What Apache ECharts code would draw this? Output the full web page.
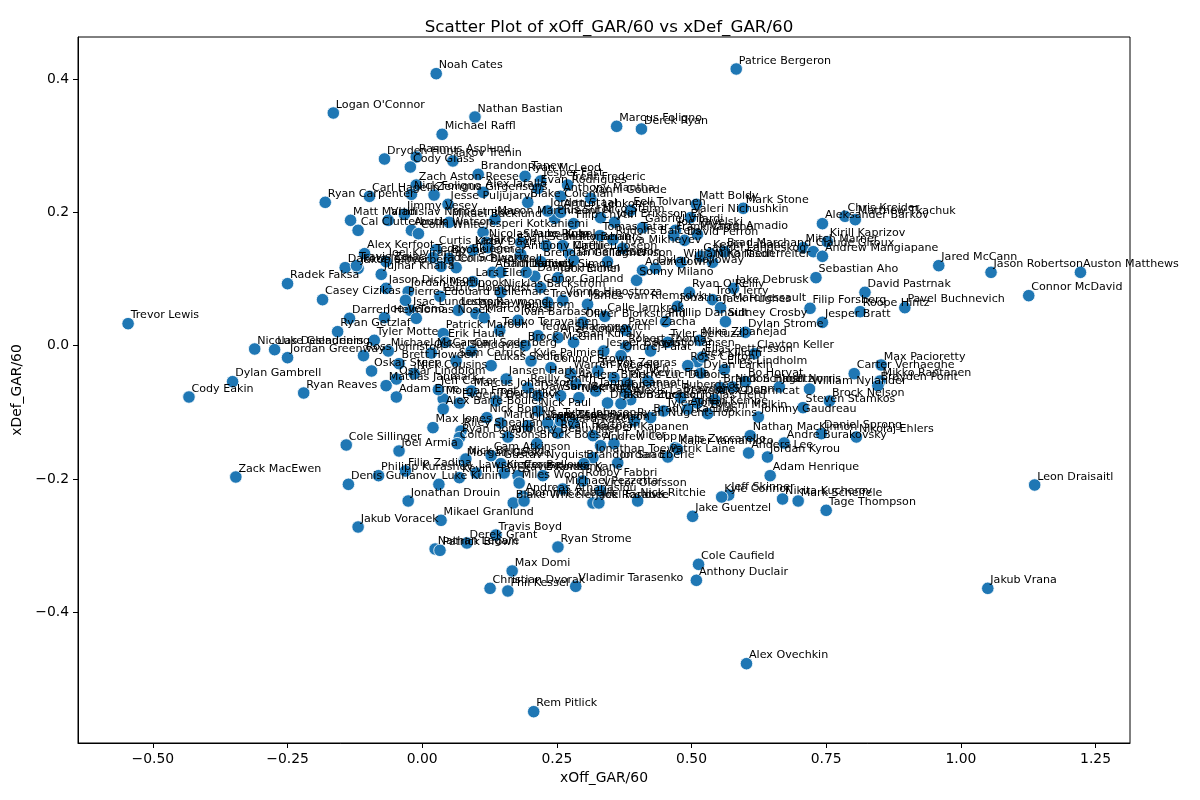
<!DOCTYPE html>
<html>
<head>
<meta charset="utf-8">
<script src="https://cdn.jsdelivr.net/npm/echarts@6/dist/echarts.min.js"></script>
<style>html,body{margin:0;padding:0;background:#fff}#c{width:1200px;height:800px}</style>
</head>
<body>
<div id="c"></div>
<script>
const players = [
"Patrice Bergeron","Noah Cates","Logan O'Connor","Nathan Bastian","Marcus Foligno","Derek Ryan","Michael Raffl","Dryden Hunt","Rasmus Asplund","Iakov Trenin",
"Cody Glass","Brandon Tanev","Ryan McLeod","Jesper Fast","Trent Frederic","Zach Aston-Reese","Carl Hagelin","Nick Foligno","Zemgus Girgensons","Alex Iafallo",
"Evan Rodrigues","Blake Coleman","Jesse Puljujarvi","Anthony Mantha","Yanni Gourde","Matt Boldy","Eeli Tolvanen","Mark Stone","Valeri Nichushkin","Jimmy Vesey",
"Vladislav Namestnikov","Matt Martin","Cal Clutterbuck","Ryan Carpenter","Austin Watson","Colin White","Mikael Backlund","Mason Marchment","Pius Suter","Jordan Staal",
"Artturi Lehkonen","Jesperi Kotkaniemi","Joel Eriksson Ek","Gabriel Vilardi","Joe Pavelski","Michael Amadio","Tomas Tatar","Rudolfs Balcers","David Perron","Aleksander Barkov",
"Chris Kreider","Matthew Tkachuk","Kirill Kaprizov","Mitch Marner","Claude Giroux","Andrew Mangiapane","Brad Marchand","Nino Niederreiter","Gabriel Landeskog","William Karlsson",
"Sebastian Aho","Jared McCann","Jason Robertson","Auston Matthews","Nicolas Aube-Kubel","Shane Pinto","Matty Beniers","Ilya Mikheyev","Curtis Lazar","Kirby Dach",
"Anthony Cirelli","Teddy Blueger","Alex Kerfoot","Joel Kiviranta","Jaden Schwartz","Jakob Silfverberg","Jujhar Khaira","Dakota Joshua","Mathieu Joseph","Tom Wilson",
"Brendan Gallagher","Arthur Kaliyev","Lars Eller","Danton Heinen","Jack Eichel","Sonny Milano","Dylan Holloway","Conor Garland","Nicklas Backstrom","Patric Hornqvist",
"Jason Dickinson","Jordan Martinook","Radek Faksa","Casey Cizikas","Vinnie Hinostroza","James van Riemsdyk","Ryan O'Reilly","Jake Debrusk","Troy Terry","Jonathan Marchessault",
"Jack Hughes","David Pastrnak","Connor McDavid","Pavel Buchnevich","Roope Hintz","Filip Forsberg","Jesper Bratt","Sidney Crosby","Phillip Danault","Dylan Strome",
"Mika Zibanejad","Oliver Wahlstrom","Isac Lundestrom","Calle Jarnkrok","Oliver Bjorkstrand","Teuvo Teravainen","Pavel Zacha","Brock McGinn","Robert Thomas","Trevor Lewis",
"Nicolas Deslauriers","Luke Glendening","Jordan Greenway","Dylan Gambrell","Cody Eakin","Ryan Reaves","Zack MacEwen","Darren Helm","Joe Veleno","Tomas Nosek",
"Ryan Getzlaf","Tyler Motte","Patrick Maroon","Erik Haula","Michael McCarron","Ross Johnston","Oskar Steen","Brett Howden","Oskar Lindblom","Mattias Janmark",
"Adam Erne","Morgan Frost","Jeff Carter","Alex Barre-Boulet","Evgenii Dadonov","Nick Bonino","Martin Necas","Max Jones","Riley Sheahan","Ryan Donato",
"Colton Sissons","Cole Sillinger","Joel Armia","Morgan Geekie","Filip Zadina","Philipp Kurashev","Kevin Hayes","Denis Gurianov","Luke Kunin","Jonathan Drouin",
"Mikael Granlund","Jakub Voracek","Travis Boyd","Derek Grant","Nathan Legare","Patrick Brown","Ryan Strome","Max Domi","Christian Dvorak","Phil Kessel",
"Vladimir Tarasenko","Rem Pitlick","Cam Atkinson","Gustav Nyquist","Travis Konecny","Evander Kane","Miles Wood","Robby Fabbri","Victor Olofsson","Andreas Athanasiou",
"Blake Wheeler","Jack Roslovic","Nick Ritchie","Jake Guentzel","Cole Caufield","Anthony Duclair","Alex Ovechkin","Jakub Vrana","Leon Draisaitl","Jeff Skinner",
"Kyle Connor","Nikita Kucherov","Mark Scheifele","Tage Thompson","Adam Henrique","Anders Lee","Jordan Kyrou","Nathan MacKinnon","Andre Burakovsky","Daniel Sprong",
"Nikolaj Ehlers","Mats Zuccarello","Patrik Laine","Jonathan Toews","Kasperi Kapanen","Brock Boeser","J.T. Miller","Anthony Beauvillier","Rickard Rakell","Ryan Nugent-Hopkins",
"Johnny Gaudreau","Steven Stamkos","Brock Nelson","William Nylander","Brandon Hagel","Josh Norris","Bo Horvat","Nick Schmaltz","Carter Verhaeghe","Max Pacioretty",
"Mikko Rantanen","Brayden Point","Elias Lindholm","Dylan Larkin","Alex Killorn","Elias Pettersson","Clayton Keller","Alex DeBrincat","Adrian Kempe","Ross Colton",
"Pierre-Luc Dubois","Alexis Lafreniere","Jonathan Huberdeau","Tanner Jeannot","Dawson Mercer","Nick Cousins","Sam Steel","Tyler Johnson","Nick Paul","Sam Bennett",
"Anders Bjork","Drake Batherson","Brady Tkachuk","Tyler Toffoli","Brandon Saad","Jordan Eberle","Andrew Copp","Ryan Hartman","Zach Hyman","Nick Bjugstad",
"Lawson Crouse","Kieffer Bellows","Michael Pezzetta","Joel Farabee","Dominik Kubalik","Yegor Sharangovich","Anze Kopitar","Sean Kuraly","Jesper Boqvist","Ondrej Palat",
"Ryan Johansen","Tyler Bertuzzi","Kyle Palmieri","Connor Brown","Warren Foegele","Trevor Zegras","Alex Tuch","Kevin Fiala","Reilly Smith","Nick Suzuki",
"Jason Zucker","Brayden Schenn","Tomas Hertl","Evgeni Malkin","Chandler Stephenson","Kailer Yamamoto","Nico Sturm","Filip Chytil","Sean Monahan","Tanner Pearson",
"Colin Blackwell","Jake Evans","Boone Jenner","Sam Lafferty","Dominik Simon","Adam Lowry","Frank Vatrano","Kevin Labanc","Pierre-Edouard Bellemare","Travis Zajac",
"Oskar Sundqvist","Sam Carrick","Carl Soderberg","Lukas Sedlak","Jansen Harkins","Marcus Johansson","Tyler Pitlick","Lucas Raymond","Marco Rossi","Ivan Barbashev",
"Trevor Moore"
];
const xOff = [
0.583,0.026,-0.165,0.098,0.361,0.407,0.037,-0.070,-0.011,0.057,
-0.022,0.104,0.191,0.220,0.270,-0.011,-0.098,-0.020,0.022,0.113,
0.215,0.196,0.048,0.257,0.313,0.509,0.387,0.596,0.498,-0.033,
-0.063,-0.133,-0.119,-0.180,-0.020,-0.007,0.050,0.135,0.246,0.233,
0.257,0.113,0.357,0.409,0.470,0.511,0.330,0.354,0.487,0.743,
0.785,0.804,0.752,0.707,0.726,0.743,0.561,0.539,0.517,0.480,
0.731,0.959,1.056,1.222,0.119,0.183,0.261,0.372,0.026,0.094,
0.183,0.020,-0.107,-0.067,0.035,-0.119,-0.076,-0.143,0.274,0.344,
0.220,0.131,0.094,0.209,0.252,0.398,0.433,0.220,0.146,0.033,
-0.067,-0.026,-0.250,-0.185,0.261,0.307,0.496,0.578,0.539,0.474,
0.554,0.822,1.126,0.896,0.813,0.720,0.743,0.563,0.452,0.600,
0.515,0.100,-0.022,0.339,0.298,0.144,0.378,0.191,0.378,-0.546,
-0.311,-0.274,-0.250,-0.352,-0.433,-0.220,-0.346,-0.135,-0.070,-0.011,
-0.157,-0.089,0.039,0.043,-0.063,-0.109,-0.094,-0.043,-0.048,-0.067,
-0.048,0.039,0.030,0.039,0.069,0.120,0.146,0.020,0.072,0.069,
0.065,-0.141,-0.043,0.078,-0.031,-0.081,0.069,-0.137,0.031,-0.026,
0.035,-0.119,0.137,0.083,0.024,0.033,0.252,0.167,0.126,0.159,
0.285,0.207,0.128,0.146,0.178,0.224,0.180,0.298,0.331,0.187,
0.169,0.317,0.400,0.502,0.513,0.509,0.602,1.050,1.137,0.569,
0.556,0.669,0.698,0.750,0.646,0.606,0.641,0.609,0.672,0.741,
0.806,0.470,0.456,0.317,0.317,0.213,0.356,0.159,0.243,0.394,
0.624,0.707,0.756,0.719,0.554,0.663,0.600,0.576,0.802,0.852,
0.850,0.846,0.561,0.517,0.511,0.520,0.617,0.543,0.493,0.493,
0.380,0.387,0.378,0.322,0.215,-0.015,0.233,0.257,0.215,0.257,
0.285,0.344,0.424,0.448,0.300,0.363,0.331,0.252,0.281,0.081,
0.100,0.152,0.261,0.328,0.189,0.215,0.252,0.281,0.337,0.369,
0.424,0.456,0.202,0.239,0.276,0.326,0.356,0.419,0.196,0.291,
0.369,0.480,0.511,0.530,0.196,0.474,0.331,0.281,0.230,0.281,
0.063,0.122,0.050,0.146,0.193,0.409,0.467,0.535,-0.031,-0.122,
0.017,0.063,0.091,0.128,0.156,0.091,0.137,0.067,0.115,0.178,
0.233
];
const xDef = [
0.415,0.408,0.349,0.343,0.329,0.325,0.317,0.280,0.283,0.277,
0.268,0.257,0.254,0.247,0.241,0.241,0.224,0.227,0.226,0.230,
0.236,0.215,0.212,0.224,0.221,0.212,0.203,0.206,0.192,0.197,
0.188,0.188,0.173,0.215,0.173,0.168,0.185,0.189,0.191,0.202,
0.200,0.170,0.185,0.177,0.173,0.167,0.165,0.159,0.158,0.183,
0.194,0.189,0.156,0.147,0.141,0.134,0.141,0.125,0.134,0.125,
0.102,0.120,0.110,0.110,0.155,0.155,0.150,0.146,0.144,0.143,
0.137,0.132,0.138,0.126,0.119,0.116,0.107,0.117,0.137,0.126,
0.126,0.110,0.096,0.104,0.102,0.098,0.116,0.087,0.080,0.074,
0.086,0.081,0.093,0.069,0.068,0.062,0.080,0.086,0.069,0.059,
0.057,0.080,0.075,0.057,0.051,0.056,0.035,0.036,0.036,0.020,
0.008,0.048,0.053,0.044,0.035,0.023,0.023,0.000,-0.002,0.033,
-0.005,-0.006,-0.018,-0.054,-0.077,-0.071,-0.197,0.041,0.042,0.041,
0.021,0.008,0.018,0.005,-0.008,-0.015,-0.038,-0.027,-0.050,-0.060,
-0.077,-0.080,-0.066,-0.095,-0.086,-0.108,-0.116,-0.123,-0.128,-0.138,
-0.147,-0.149,-0.158,-0.173,-0.188,-0.195,-0.198,-0.208,-0.208,-0.233,
-0.262,-0.272,-0.284,-0.296,-0.305,-0.307,-0.302,-0.338,-0.364,-0.368,
-0.361,-0.549,-0.165,-0.177,-0.195,-0.195,-0.206,-0.203,-0.218,-0.226,
-0.236,-0.236,-0.233,-0.256,-0.328,-0.352,-0.477,-0.364,-0.209,-0.224,
-0.227,-0.230,-0.233,-0.247,-0.195,-0.161,-0.167,-0.135,-0.146,-0.132,
-0.137,-0.153,-0.167,-0.168,-0.135,-0.147,-0.147,-0.137,-0.123,-0.113,
-0.107,-0.093,-0.083,-0.065,-0.063,-0.062,-0.054,-0.062,-0.042,-0.029,
-0.053,-0.060,-0.036,-0.041,-0.024,-0.017,-0.012,-0.081,-0.095,-0.030,
-0.056,-0.081,-0.071,-0.068,-0.075,-0.042,-0.116,-0.113,-0.098,-0.075,
-0.057,-0.086,-0.108,-0.098,-0.177,-0.176,-0.150,-0.131,-0.116,-0.170,
-0.191,-0.191,-0.215,-0.236,-0.233,0.015,0.012,0.005,-0.008,-0.015,
-0.008,0.005,-0.023,-0.033,-0.042,-0.038,-0.048,-0.053,-0.063,-0.078,
-0.087,-0.078,-0.086,-0.102,-0.120,-0.155,0.192,0.183,0.150,0.128,
0.117,0.147,0.131,0.110,0.110,0.113,0.165,0.138,0.068,0.120,
-0.011,-0.023,-0.008,-0.030,-0.050,-0.068,-0.083,0.053,0.042,0.038,
0.065
];
const xTickValues = [-0.5, -0.25, 0, 0.25, 0.5, 0.75, 1.0, 1.25];
const xTickLabels = ["\u22120.50", "\u22120.25", "0.00", "0.25", "0.50", "0.75", "1.00", "1.25"];
const yTickValues = [-0.4, -0.2, 0, 0.2, 0.4];
const yTickLabels = ["\u22120.4", "\u22120.2", "0.0", "0.2", "0.4"];

const FONT = "DejaVu Sans";
const data = players.map((n, i) => ({ name: n, value: [xOff[i], xDef[i]] }));

function fmt(values, labels) {
  return function (v) {
    for (let i = 0; i < values.length; i++) {
      if (Math.abs(values[i] - v) < 1e-6) return labels[i];
    }
    return '';
  };
}

const chart = echarts.init(document.getElementById('c'), null, { renderer: 'canvas' });
chart.setOption({
  animation: false,
  backgroundColor: '#ffffff',
  textStyle: { fontFamily: FONT },
  title: {
    text: 'Scatter Plot of xOff_GAR/60 vs xDef_GAR/60',
    left: 604, top: 14, textAlign: 'center',
    textStyle: { fontFamily: FONT, fontSize: 16.7, fontWeight: 'normal', color: '#000' }
  },
  grid: {
    left: 78, right: 70, top: 37, bottom: 57,
    show: true, borderColor: '#000', borderWidth: 1, backgroundColor: 'transparent'
  },
  xAxis: {
    type: 'value', min: -0.639, max: 1.314, position: 'bottom',
    name: 'xOff_GAR/60', nameLocation: 'middle', nameGap: 26,
    nameTextStyle: { fontFamily: FONT, fontSize: 13.9, color: '#000' },
    axisLine: { show: true, onZero: false, lineStyle: { color: '#000', width: 1 } },
    splitLine: { show: false },
    axisTick: { show: true, inside: false, length: 5, lineStyle: { color: '#000', width: 1 }, customValues: xTickValues },
    axisLabel: { margin: 9, fontFamily: FONT, fontSize: 13.9, color: '#000', customValues: xTickValues, formatter: fmt(xTickValues, xTickLabels) }
  },
  yAxis: {
    type: 'value', min: -0.596, max: 0.463, position: 'left',
    name: 'xDef_GAR/60', nameLocation: 'middle', nameGap: 44, nameRotate: 90,
    nameTextStyle: { fontFamily: FONT, fontSize: 13.9, color: '#000' },
    axisLine: { show: true, onZero: false, lineStyle: { color: '#000', width: 1 } },
    splitLine: { show: false },
    axisTick: { show: true, inside: false, length: 5, lineStyle: { color: '#000', width: 1 }, customValues: yTickValues },
    axisLabel: { margin: 9, fontFamily: FONT, fontSize: 13.9, color: '#000', customValues: yTickValues, formatter: fmt(yTickValues, yTickLabels) }
  },
  series: [{
    type: 'scatter',
    data: data,
    symbol: 'circle',
    symbolSize: 12.5,
    itemStyle: { color: '#1f77b4', borderColor: '#ffffff', borderWidth: 0.8, opacity: 1 },
    label: {
      show: true,
      formatter: '{b}',
      position: [9.2, 4],
      align: 'left',
      verticalAlign: 'bottom',
      fontFamily: FONT,
      fontSize: 11.1,
      color: '#000'
    },
    emphasis: { disabled: true }
  }]
});
</script>
</body>
</html>
